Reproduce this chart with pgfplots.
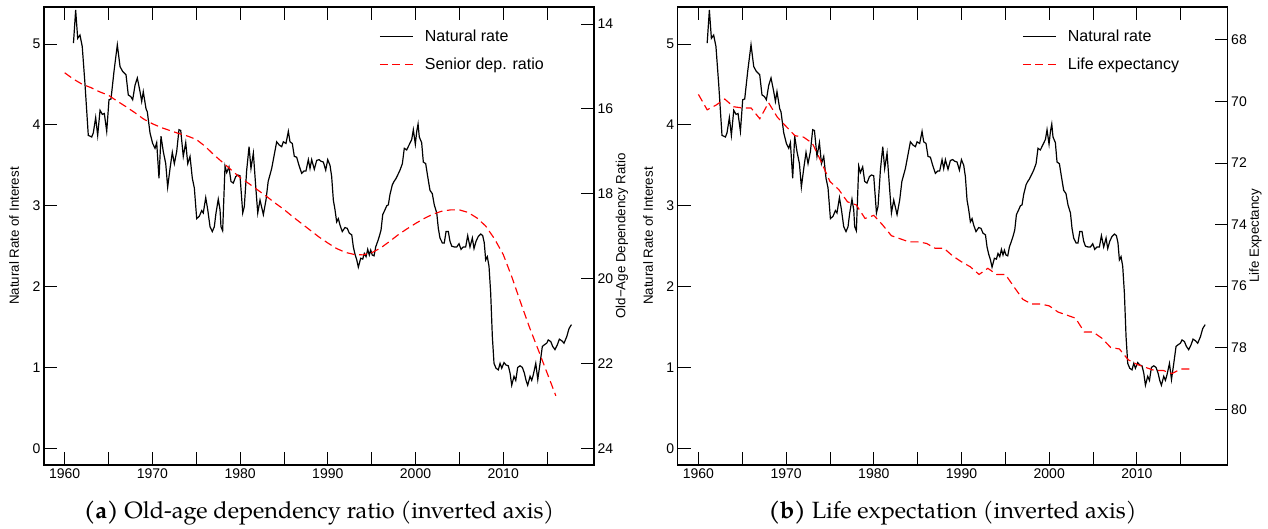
\documentclass[border=0pt]{standalone}
\usepackage{pgfplots}
\pgfplotsset{compat=1.18}
\usepackage{pgfplotstable}
\usepackage{fontspec}
\setmainfont{Liberation Sans}
\newfontfamily\capfont[Extension=.otf, UprightFont=*-regular, BoldFont=*-bold]{texgyrepagella}

\pgfplotstableread{
year rate
1961.00 5.01
1961.25 5.42
1961.48 5.07
1961.74 5.11
1962.00 4.97
1962.31 4.51
1962.69 3.87
1963.08 3.85
1963.26 3.90
1963.53 4.09
1963.76 3.87
1964.03 4.18
1964.29 4.13
1964.52 4.14
1964.79 3.92
1965.05 4.31
1965.28 4.32
1965.62 4.66
1966.00 4.99
1966.31 4.72
1966.61 4.66
1966.99 4.62
1967.25 4.37
1967.53 4.35
1967.75 4.31
1968.02 4.49
1968.28 4.58
1968.59 4.41
1968.78 4.29
1968.96 4.41
1969.27 4.20
1969.42 4.16
1969.73 3.90
1970.03 3.77
1970.30 3.71
1970.49 3.78
1970.75 3.34
1970.98 3.86
1971.24 3.67
1971.52 3.52
1971.74 3.23
1972.01 3.46
1972.27 3.66
1972.50 3.52
1972.77 3.67
1973.03 3.94
1973.23 3.93
1973.52 3.61
1973.80 3.78
1974.03 3.52
1974.29 3.61
1974.55 3.34
1974.78 3.22
1975.05 2.84
1975.35 2.87
1975.62 2.94
1975.80 2.91
1976.08 3.10
1976.31 2.95
1976.57 2.74
1976.83 2.68
1977.06 2.74
1977.25 2.91
1977.51 3.08
1977.71 2.95
1977.82 2.74
1978.01 2.69
1978.28 3.49
1978.47 3.41
1978.73 3.48
1978.96 3.30
1979.22 3.28
1979.50 3.36
1979.73 3.38
1979.99 3.37
1980.30 2.91
1980.48 2.99
1980.75 3.44
1981.02 3.73
1981.24 3.46
1981.51 3.65
1981.78 3.24
1982.01 2.91
1982.27 3.07
1982.65 2.89
1982.95 3.07
1983.20 3.30
1983.60 3.46
1984.17 3.79
1984.47 3.75
1984.74 3.73
1984.93 3.79
1985.23 3.77
1985.50 3.92
1985.69 3.79
1985.95 3.77
1986.18 3.61
1986.45 3.60
1986.71 3.50
1987.02 3.40
1987.29 3.43
1987.51 3.43
1987.78 3.57
1987.97 3.46
1988.16 3.57
1988.46 3.45
1988.73 3.56
1989.00 3.57
1989.22 3.55
1989.49 3.54
1989.76 3.44
1989.99 3.57
1990.25 3.50
1990.44 3.36
1990.63 3.07
1990.82 2.95
1991.01 2.80
1991.20 2.84
1991.39 2.76
1991.65 2.68
1991.96 2.73
1992.22 2.72
1992.45 2.66
1992.73 2.64
1992.91 2.49
1993.10 2.40
1993.30 2.33
1993.48 2.24
1993.75 2.35
1993.98 2.34
1994.16 2.41
1994.36 2.37
1994.55 2.46
1994.73 2.39
1994.89 2.45
1995.07 2.39
1995.27 2.38
1995.46 2.49
1995.69 2.56
1995.87 2.62
1996.07 2.70
1996.26 2.89
1996.52 2.95
1996.72 3.00
1996.90 3.01
1997.09 3.14
1997.36 3.26
1997.55 3.30
1997.74 3.33
1997.97 3.38
1998.23 3.44
1998.50 3.52
1998.72 3.71
1998.99 3.69
1999.26 3.75
1999.57 3.82
1999.75 3.94
1999.98 3.76
2000.14 3.92
2000.29 4.01
2000.43 3.85
2000.70 3.78
2000.89 3.54
2001.16 3.52
2001.39 3.36
2001.65 3.19
2001.91 3.15
2002.14 3.01
2002.42 2.91
2002.60 2.72
2002.79 2.60
2003.06 2.54
2003.28 2.54
2003.48 2.68
2003.74 2.68
2003.93 2.56
2004.13 2.50
2004.42 2.49
2004.70 2.49
2004.96 2.53
2005.19 2.46
2005.45 2.49
2005.72 2.49
2005.95 2.63
2006.21 2.49
2006.48 2.60
2006.67 2.47
2006.90 2.56
2007.16 2.62
2007.43 2.65
2007.66 2.63
2007.84 2.54
2008.00 2.33
2008.19 2.37
2008.38 2.25
2008.57 1.92
2008.76 1.38
2008.95 1.05
2009.18 0.99
2009.44 0.97
2009.64 1.05
2009.83 0.99
2010.09 1.06
2010.32 1.03
2010.58 1.02
2010.78 0.93
2010.97 0.78
2011.23 0.89
2011.43 0.84
2011.65 1.00
2011.92 1.02
2012.18 1.00
2012.41 0.93
2012.60 0.84
2012.79 0.78
2013.06 0.89
2013.25 0.84
2013.43 0.91
2013.71 1.05
2013.94 0.85
2014.20 1.05
2014.46 1.26
2014.69 1.28
2014.96 1.30
2015.14 1.34
2015.42 1.32
2015.64 1.26
2015.90 1.22
2016.17 1.28
2016.40 1.35
2016.67 1.33
2016.93 1.30
2017.24 1.38
2017.50 1.48
2017.78 1.53
}\natrate

\pgfplotstableread{
year dep
1960 15.15
1961 15.30
1962 15.42
1963 15.50
1964 15.60
1965 15.68
1966 15.82
1967 15.95
1968 16.09
1969 16.24
1970 16.35
1971 16.44
1972 16.51
1973 16.58
1974 16.64
1975 16.72
1976 16.88
1977 17.08
1978 17.26
1979 17.44
1980 17.62
1981 17.76
1982 17.91
1983 18.06
1984 18.22
1985 18.37
1986 18.54
1987 18.70
1988 18.86
1989 19.02
1990 19.16
1991 19.29
1992 19.38
1993 19.43
1994 19.44
1995 19.39
1996 19.28
1997 19.13
1998 18.97
1999 18.83
2000 18.70
2001 18.58
2002 18.48
2003 18.41
2004 18.38
2005 18.38
2006 18.44
2007 18.57
2008 18.76
2009 19.06
2010 19.43
2011 19.97
2012 20.57
2013 21.15
2014 21.68
2015 22.22
2016 22.76
}\depratio

\pgfplotstableread{
year life
1960 69.77
1961 70.27
1962 70.12
1963 69.92
1964 70.17
1965 70.21
1966 70.21
1967 70.56
1968 70.04
1969 70.51
1970 70.81
1971 71.11
1972 71.16
1973 71.36
1974 71.96
1975 72.60
1976 72.86
1977 73.26
1978 73.36
1979 73.80
1980 73.70
1981 74.01
1982 74.36
1983 74.46
1984 74.56
1985 74.56
1986 74.61
1987 74.77
1988 74.77
1989 75.02
1990 75.21
1991 75.37
1992 75.62
1993 75.42
1994 75.62
1995 75.62
1996 76.03
1997 76.43
1998 76.58
1999 76.58
2000 76.64
2001 76.84
2002 76.94
2003 77.04
2004 77.49
2005 77.49
2006 77.69
2007 77.99
2008 78.04
2009 78.39
2010 78.54
2011 78.64
2012 78.74
2013 78.74
2014 78.84
2015 78.69
2016 78.69
}\lifeexp

\pgfplotsset{
  basestyle/.style={
    scale only axis, width=550pt, height=458pt,
    xmin=1957.64, xmax=2020.35,
    axis line style={line width=1.2pt},
    every tick/.style={line width=0.9pt, black},
    tick align=inside, major tick length=13pt, minor tick length=13pt,
    tick label style={font=\fontsize{14}{16}\selectfont},
    /pgf/number format/assume math mode=true,
  },
  primstyle/.style={
    basestyle,
    ymin=-0.2065, ymax=5.4576, ytick={0,1,2,3,4,5}, ytick pos=left,
    xtick={1960,1970,1980,1990,2000,2010},
    minor xtick={1965,1975,1985,1995,2005,2015},
    xtick pos=both, xticklabel pos=lower,
    /pgf/number format/1000 sep={},
  },
  secstyle/.style={
    basestyle,
    axis y line*=right, axis x line=none, y dir=reverse,
    legend style={draw=none, fill=none, inner sep=0pt, anchor=north west,
      font=\fontsize{16}{19}\selectfont, row sep=11.5pt,
      /tikz/every odd column/.append style={column sep=9.5pt}},
    legend cell align=left,
    legend image code/.code={\draw[##1] (0pt,0pt) -- (33pt,0pt);},
  },
  natline/.style={black, line width=1.2pt},
  redline/.style={red, line width=1.15pt, dash pattern=on 8pt off 4.5pt},
}

\begin{document}
\begin{tikzpicture}
\useasboundingbox (0,0) rectangle (1268pt,529pt);
% ---------- panel (a)
\begin{axis}[primstyle, at={(44pt,64pt)}, anchor=south west]
\addplot[natline] table[x=year,y=rate]{\natrate};
\end{axis}
\begin{axis}[secstyle, at={(44pt,64pt)}, anchor=south west,
  ymin=13.6, ymax=24.39, ytick={14,16,18,20,22,24},
  legend style={at={(0.6091,0.9555)}}]
\addlegendimage{natline}
\addlegendentry{Natural rate}
\addplot[redline] table[x=year,y=dep]{\depratio};
\addlegendentry{Senior dep. ratio}
\end{axis}
% ---------- panel (b)
\begin{axis}[primstyle, at={(677.7pt,64pt)}, anchor=south west]
\addplot[natline] table[x=year,y=rate]{\natrate};
\end{axis}
\begin{axis}[secstyle, at={(677.7pt,64pt)}, anchor=south west,
  ymin=66.93, ymax=81.81, ytick={68,70,72,74,76,78,80},
  legend style={at={(0.6259,0.9555)}}]
\addlegendimage{natline}
\addlegendentry{Natural rate}
\addplot[redline] table[x=year,y=life]{\lifeexp};
\addlegendentry{Life expectancy}
\end{axis}
% ---------- labels
\node[rotate=90, font=\fontsize{13.3}{16}\selectfont] at (14pt,293pt) {Natural Rate of Interest};
\node[rotate=90, font=\fontsize{13.3}{16}\selectfont] at (622pt,293pt) {Old−Age Dependency Ratio};
\node[rotate=90, font=\fontsize{13.3}{16}\selectfont] at (648pt,293pt) {Natural Rate of Interest};
\node[rotate=90, font=\fontsize{13.3}{16}\selectfont] at (1255.5pt,293pt) {Life Expectancy};
\node[anchor=base, font=\capfont\fontsize{23.5}{28}\selectfont] at (319pt,10pt) {\textbf{(a)} Old-age dependency ratio (inverted axis)};
\node[anchor=base, font=\capfont\fontsize{23.5}{28}\selectfont] at (952.5pt,10pt) {\textbf{(b)} Life expectation (inverted axis)};
\end{tikzpicture}
\end{document}
